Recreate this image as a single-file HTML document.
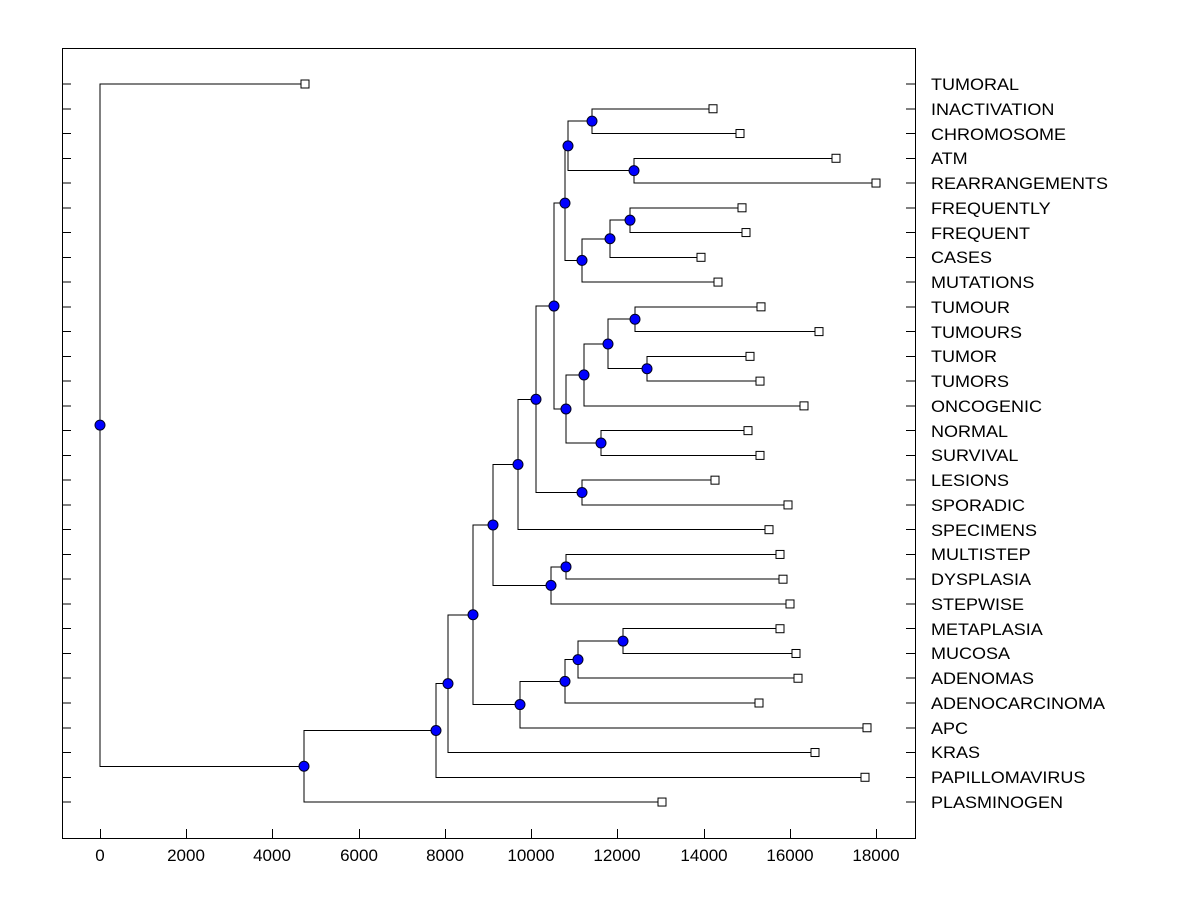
<!DOCTYPE html>
<html><head><meta charset="utf-8"><style>
html,body{margin:0;padding:0;background:#fff;}
svg{display:block;font-family:"Liberation Sans",Arial,sans-serif;}
</style></head><body>
<svg width="1200" height="900" viewBox="0 0 1200 900" xmlns="http://www.w3.org/2000/svg">
<rect x="62.5" y="48.5" width="853" height="790" fill="none" stroke="#000" stroke-width="1"/>
<g stroke="#000" stroke-width="1" shape-rendering="crispEdges">
<path d="M62 84H71M62 108.76H71M62 133.52H71M62 158.28H71M62 183.04H71M62 207.8H71M62 232.56H71M62 257.32H71M62 282.08H71M62 306.84H71M62 331.6H71M62 356.36H71M62 381.12H71M62 405.88H71M62 430.64H71M62 455.4H71M62 480.16H71M62 504.92H71M62 529.68H71M62 554.44H71M62 579.2H71M62 603.96H71M62 628.72H71M62 653.48H71M62 678.24H71M62 703H71M62 727.76H71M62 752.52H71M62 777.28H71M62 802.04H71"/>
<path d="M906 84H915M906 108.76H915M906 133.52H915M906 158.28H915M906 183.04H915M906 207.8H915M906 232.56H915M906 257.32H915M906 282.08H915M906 306.84H915M906 331.6H915M906 356.36H915M906 381.12H915M906 405.88H915M906 430.64H915M906 455.4H915M906 480.16H915M906 504.92H915M906 529.68H915M906 554.44H915M906 579.2H915M906 603.96H915M906 628.72H915M906 653.48H915M906 678.24H915M906 703H915M906 727.76H915M906 752.52H915M906 777.28H915M906 802.04H915"/>
<path d="M100.5 838V829M186.5 838V829M272.5 838V829M359.5 838V829M445.5 838V829M531.5 838V829M617.5 838V829M704.5 838V829M790.5 838V829M876.5 838V829"/>
</g>
<g font-size="17" text-anchor="middle" fill="#000">
<text x="100" y="861">0</text><text x="186" y="861">2000</text><text x="272" y="861">4000</text><text x="359" y="861">6000</text><text x="445" y="861">8000</text><text x="531" y="861">10000</text><text x="617" y="861">12000</text><text x="704" y="861">14000</text><text x="790" y="861">16000</text><text x="876" y="861">18000</text>
</g>
<g font-size="17" fill="#000" transform="translate(931,0) scale(1.06,1)">
<text x="0" y="90">TUMORAL</text><text x="0" y="115">INACTIVATION</text><text x="0" y="140">CHROMOSOME</text><text x="0" y="164">ATM</text><text x="0" y="189">REARRANGEMENTS</text><text x="0" y="214">FREQUENTLY</text><text x="0" y="239">FREQUENT</text><text x="0" y="263">CASES</text><text x="0" y="288">MUTATIONS</text><text x="0" y="313">TUMOUR</text><text x="0" y="338">TUMOURS</text><text x="0" y="362">TUMOR</text><text x="0" y="387">TUMORS</text><text x="0" y="412">ONCOGENIC</text><text x="0" y="437">NORMAL</text><text x="0" y="461">SURVIVAL</text><text x="0" y="486">LESIONS</text><text x="0" y="511">SPORADIC</text><text x="0" y="536">SPECIMENS</text><text x="0" y="560">MULTISTEP</text><text x="0" y="585">DYSPLASIA</text><text x="0" y="610">STEPWISE</text><text x="0" y="635">METAPLASIA</text><text x="0" y="659">MUCOSA</text><text x="0" y="684">ADENOMAS</text><text x="0" y="709">ADENOCARCINOMA</text><text x="0" y="734">APC</text><text x="0" y="758">KRAS</text><text x="0" y="783">PAPILLOMAVIRUS</text><text x="0" y="808">PLASMINOGEN</text>
</g>
<g fill="none" stroke="#000" stroke-width="1" shape-rendering="crispEdges">
<path d="M713 108.76H592V133.52H740"/>
<path d="M836 158.28H634V183.04H876"/>
<path d="M592 121.14H568V170.66H634"/>
<path d="M742 207.8H630V232.56H746"/>
<path d="M630 220.18H610V257.32H701"/>
<path d="M610 238.75H582V282.08H718"/>
<path d="M568 145.9H565V260.4H582"/>
<path d="M761 306.84H635V331.6H819"/>
<path d="M750 356.36H647V381.12H760"/>
<path d="M635 319.22H608V368.74H647"/>
<path d="M608 343.98H584V405.88H804"/>
<path d="M748 430.64H601V455.4H760"/>
<path d="M584 374.93H566V443.02H601"/>
<path d="M565 203.15H554V408.98H566"/>
<path d="M715 480.16H582V504.92H788"/>
<path d="M554 306.06H536V492.54H582"/>
<path d="M536 399.3H518V529.68H769"/>
<path d="M780 554.44H566V579.2H783"/>
<path d="M566 566.82H551V603.96H790"/>
<path d="M518 464.49H493V585.39H551"/>
<path d="M780 628.72H623V653.48H796"/>
<path d="M623 641.1H578V678.24H798"/>
<path d="M578 659.67H565V703H759"/>
<path d="M565 681.34H520V727.76H867"/>
<path d="M493 524.94H473V704.55H520"/>
<path d="M473 614.75H448V752.52H815"/>
<path d="M448 683.63H436V777.28H865"/>
<path d="M436 730.46H304V802.04H662"/>
<path d="M305 84H100V766.25H304"/>
</g>
<g fill="#fff" stroke="#000" stroke-width="1">
<rect x="301" y="80" width="8" height="8"/><rect x="709" y="104.76" width="8" height="8"/><rect x="736" y="129.52" width="8" height="8"/><rect x="832" y="154.28" width="8" height="8"/><rect x="872" y="179.04" width="8" height="8"/><rect x="738" y="203.8" width="8" height="8"/><rect x="742" y="228.56" width="8" height="8"/><rect x="697" y="253.32" width="8" height="8"/><rect x="714" y="278.08" width="8" height="8"/><rect x="757" y="302.84" width="8" height="8"/><rect x="815" y="327.6" width="8" height="8"/><rect x="746" y="352.36" width="8" height="8"/><rect x="756" y="377.12" width="8" height="8"/><rect x="800" y="401.88" width="8" height="8"/><rect x="744" y="426.64" width="8" height="8"/><rect x="756" y="451.4" width="8" height="8"/><rect x="711" y="476.16" width="8" height="8"/><rect x="784" y="500.92" width="8" height="8"/><rect x="765" y="525.68" width="8" height="8"/><rect x="776" y="550.44" width="8" height="8"/><rect x="779" y="575.2" width="8" height="8"/><rect x="786" y="599.96" width="8" height="8"/><rect x="776" y="624.72" width="8" height="8"/><rect x="792" y="649.48" width="8" height="8"/><rect x="794" y="674.24" width="8" height="8"/><rect x="755" y="699" width="8" height="8"/><rect x="863" y="723.76" width="8" height="8"/><rect x="811" y="748.52" width="8" height="8"/><rect x="861" y="773.28" width="8" height="8"/><rect x="658" y="798.04" width="8" height="8"/>
</g>
<g fill="#0000ff" stroke="#000020" stroke-width="1">
<circle cx="592" cy="121.14" r="5"/><circle cx="634" cy="170.66" r="5"/><circle cx="568" cy="145.9" r="5"/><circle cx="630" cy="220.18" r="5"/><circle cx="610" cy="238.75" r="5"/><circle cx="582" cy="260.4" r="5"/><circle cx="565" cy="203.15" r="5"/><circle cx="635" cy="319.22" r="5"/><circle cx="647" cy="368.74" r="5"/><circle cx="608" cy="343.98" r="5"/><circle cx="584" cy="374.93" r="5"/><circle cx="601" cy="443.02" r="5"/><circle cx="566" cy="408.98" r="5"/><circle cx="554" cy="306.06" r="5"/><circle cx="582" cy="492.54" r="5"/><circle cx="536" cy="399.3" r="5"/><circle cx="518" cy="464.49" r="5"/><circle cx="566" cy="566.82" r="5"/><circle cx="551" cy="585.39" r="5"/><circle cx="493" cy="524.94" r="5"/><circle cx="623" cy="641.1" r="5"/><circle cx="578" cy="659.67" r="5"/><circle cx="565" cy="681.34" r="5"/><circle cx="520" cy="704.55" r="5"/><circle cx="473" cy="614.75" r="5"/><circle cx="448" cy="683.63" r="5"/><circle cx="436" cy="730.46" r="5"/><circle cx="304" cy="766.25" r="5"/><circle cx="100" cy="425.1" r="5"/>
</g>
</svg>
</body></html>
